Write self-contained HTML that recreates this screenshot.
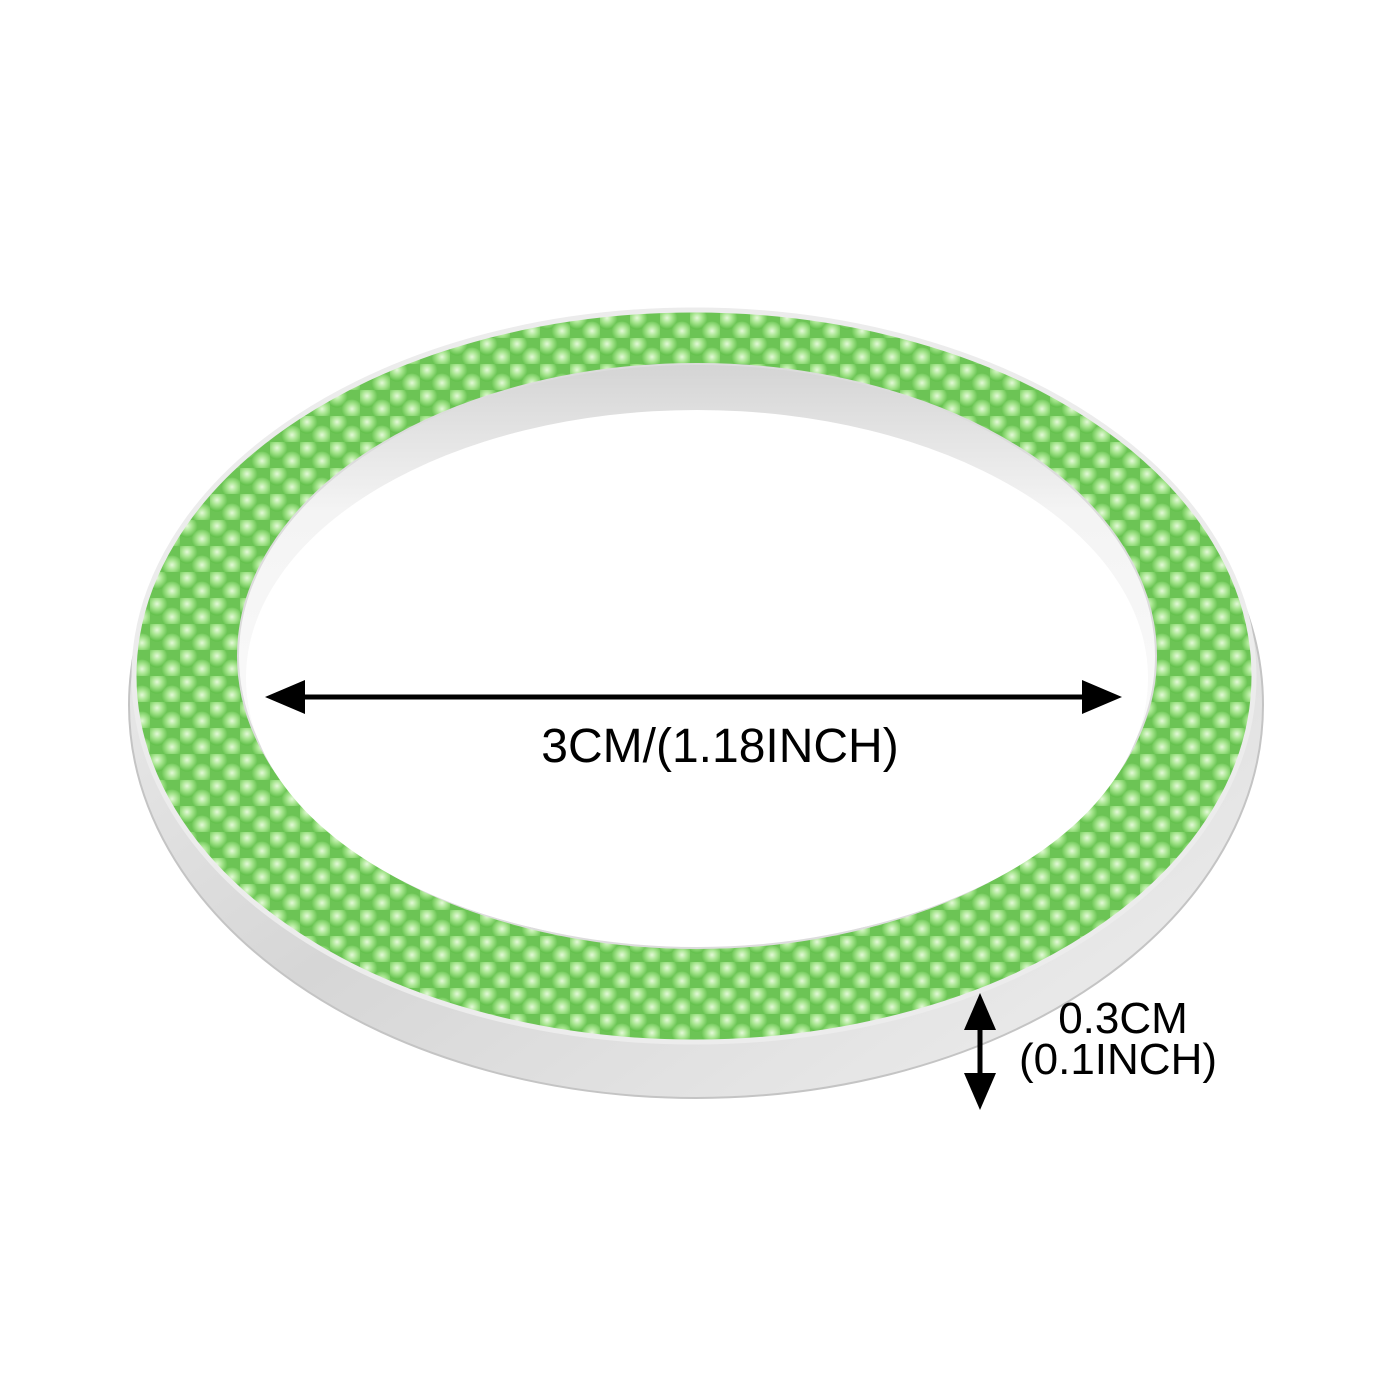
<!DOCTYPE html>
<html><head><meta charset="utf-8"><style>
html,body{margin:0;padding:0;background:#fff;width:1400px;height:1400px;overflow:hidden}
svg{display:block}
text{font-family:"Liberation Sans",Arial,sans-serif;fill:#000}
</style></head><body>
<svg width="1400" height="1400" viewBox="0 0 1400 1400" xmlns="http://www.w3.org/2000/svg">
<defs>
  <radialGradient id="gem" cx="50%" cy="45%" r="55%">
    <stop offset="0" stop-color="#e4f9d8"/>
    <stop offset="0.45" stop-color="#a6e58e"/>
    <stop offset="1" stop-color="#5fbf48"/>
  </radialGradient>
  <pattern id="dots" width="30" height="26" patternUnits="userSpaceOnUse">
    <rect width="30" height="26" fill="#6cc455"/>
    <circle cx="7" cy="7" r="10.5" fill="url(#gem)"/>
    <circle cx="22" cy="20" r="10.5" fill="url(#gem)"/>
  </pattern>
  <linearGradient id="silver" x1="0" y1="0" x2="1" y2="1">
    <stop offset="0" stop-color="#f6f6f6"/>
    <stop offset="0.5" stop-color="#d6d6d6"/>
    <stop offset="1" stop-color="#f0f0f0"/>
  </linearGradient>
  <linearGradient id="wall" x1="0" y1="0" x2="0" y2="1">
    <stop offset="0" stop-color="#d4d4d4"/>
    <stop offset="0.25" stop-color="#f4f4f4"/>
    <stop offset="1" stop-color="#ffffff"/>
  </linearGradient>
</defs>
<ellipse cx="696" cy="705" rx="567" ry="393" fill="url(#silver)" stroke="#c4c4c4" stroke-width="2"/>
<ellipse cx="694" cy="676" rx="560" ry="366" fill="url(#dots)"/>
<ellipse cx="694" cy="676" rx="560" ry="366" fill="none" stroke="#ececec" stroke-width="5"/>
<ellipse cx="697" cy="656" rx="459" ry="292" fill="url(#wall)" stroke="#dcdcdc" stroke-width="2"/>
<ellipse cx="697" cy="678" rx="451" ry="268" fill="#fff"/>
<line x1="290" y1="697" x2="1095" y2="697" stroke="#000" stroke-width="5"/>
<polygon points="265,697 305,680 305,714" fill="#000"/>
<polygon points="1122,697 1082,680 1082,714" fill="#000"/>
<text x="720" y="762" font-size="48" text-anchor="middle">3CM/(1.18INCH)</text>
<line x1="980" y1="1015" x2="980" y2="1088" stroke="#000" stroke-width="5"/>
<polygon points="980,993 964,1030 996,1030" fill="#000"/>
<polygon points="980,1110 964,1073 996,1073" fill="#000"/>
<text x="1123" y="1033" font-size="44" text-anchor="middle">0.3CM</text>
<text x="1118" y="1074" font-size="44" text-anchor="middle">(0.1INCH)</text>
</svg>
</body></html>
